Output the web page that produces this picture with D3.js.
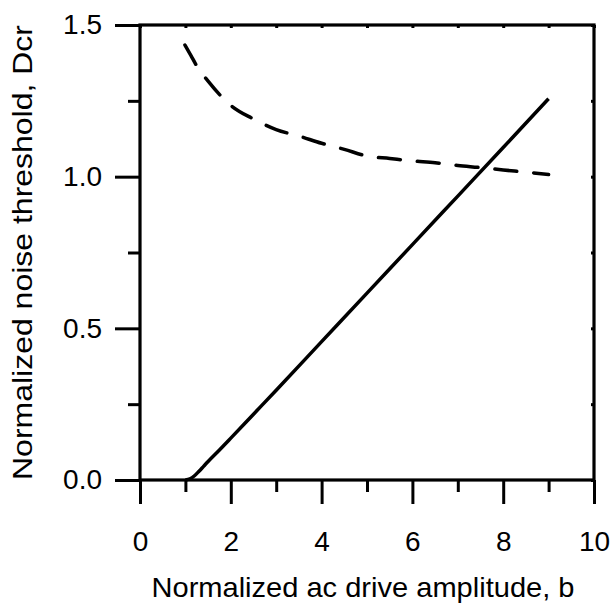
<!DOCTYPE html>
<html>
  <meta charset="utf-8" />
  <style>
    body { margin: 0; background: #fff; }
  </style>
  <svg width="615" height="610"></svg>
  <script src="https://d3js.org/d3.v7.min.js"></script>
  <script>
    // curve values
    const solidB = [1.0, 1.1, 1.2, 1.3, 1.4, 1.5, 1.75, 2.0, 2.5, 3.0, 4.0, 5.0, 6.0, 7.0, 8.0, 9.0];
    const solidD = [0.0, 0.004, 0.014, 0.029, 0.045, 0.061, 0.099, 0.138, 0.217, 0.296, 0.456, 0.616, 0.776, 0.936, 1.096, 1.257];

    const dashB = [0.99, 1.12, 1.25, 1.5, 2.0, 2.5, 3.0, 3.5, 4.0, 4.5, 5.0, 5.5, 6.0, 6.5, 7.0, 7.5, 8.0, 8.5, 9.0];
    const dashD = [1.434, 1.4, 1.365, 1.315, 1.235, 1.19, 1.155, 1.134, 1.11, 1.09, 1.068, 1.06, 1.052, 1.046, 1.037, 1.03, 1.022, 1.015, 1.007];

    const xMajor = [0, 2, 4, 6, 8, 10];
    const xMinor = [1, 3, 5, 7, 9];
    const yMajor = [0, 0.5, 1.0, 1.5];
    const yMinor = [0.25, 0.75, 1.25];

    const font = "'Liberation Sans', Arial, sans-serif";
    const fontSize = 28;

    var svg = d3.select("svg");
    var x = d3.scaleLinear().domain([0, 10]).range([140, 594]);
    var y = d3.scaleLinear().domain([0, 1.5]).range([480, 25]);

    function styleAxis(g) {
      g.select(".domain").remove();
      g.selectAll("line").attr("stroke", "#000").attr("stroke-width", 3);
      g.selectAll("text")
        .attr("font-family", font)
        .attr("font-size", fontSize)
        .attr("fill", "#000");
    }

    // bottom axis
    svg.append("g")
      .attr("transform", "translate(0,480)")
      .call(d3.axisBottom(x).tickValues(xMajor).tickSize(24).tickSizeOuter(0).tickFormat(d3.format("d")))
      .call(styleAxis)
      .call((g) => g.selectAll("text").attr("y", 71).attr("dy", 0));
    svg.append("g")
      .attr("transform", "translate(0,480)")
      .call(d3.axisBottom(x).tickValues(xMinor).tickSize(12).tickFormat(""))
      .call(styleAxis);

    // left axis
    svg.append("g")
      .attr("transform", "translate(140,0)")
      .call(d3.axisLeft(y).tickValues(yMajor).tickSize(25).tickPadding(13).tickFormat(d3.format(".1f")))
      .call(styleAxis)
      .call((g) => g.selectAll("text").attr("dy", "0.32em"));
    svg.append("g")
      .attr("transform", "translate(140,0)")
      .call(d3.axisLeft(y).tickValues(yMinor).tickSize(12).tickFormat(""))
      .call(styleAxis);

    // top and right small ticks
    svg.append("g")
      .attr("transform", "translate(0,25)")
      .call(d3.axisBottom(x).tickValues(xMajor.concat(xMinor)).tickSize(3).tickFormat(""))
      .call(styleAxis);
    svg.append("g")
      .attr("transform", "translate(594,0)")
      .call(d3.axisLeft(y).tickValues(yMajor.concat(yMinor)).tickSize(3).tickFormat(""))
      .call(styleAxis);

    // frame
    svg.append("rect")
      .attr("x", x(0))
      .attr("y", y(1.5))
      .attr("width", x(10) - x(0))
      .attr("height", y(0) - y(1.5))
      .attr("fill", "none")
      .attr("stroke", "#000")
      .attr("stroke-width", 3.2);

    var line = d3.line()
      .x((d) => x(d[0]))
      .y((d) => y(d[1]))
      .curve(d3.curveMonotoneX);

    svg.append("path")
      .datum(solidB.map((b, i) => [b, solidD[i]]))
      .attr("d", line)
      .attr("fill", "none")
      .attr("stroke", "#000")
      .attr("stroke-width", 3.5)
      .attr("stroke-linejoin", "round");

    svg.append("path")
      .datum(dashB.map((b, i) => [b, dashD[i]]))
      .attr("d", line)
      .attr("fill", "none")
      .attr("stroke", "#000")
      .attr("stroke-width", 3.5)
      .attr("stroke-linecap", "round")
      .attr("stroke-dasharray", "22,17");

    // axis titles
    svg.append("text")
      .attr("x", 363)
      .attr("y", 597)
      .attr("text-anchor", "middle")
      .attr("font-family", font)
      .attr("font-size", fontSize)
      .attr("textLength", 423)
      .attr("lengthAdjust", "spacingAndGlyphs")
      .text("Normalized ac drive amplitude, b");

    svg.append("text")
      .attr("transform", "translate(32,252.5) rotate(-90)")
      .attr("text-anchor", "middle")
      .attr("font-family", font)
      .attr("font-size", fontSize)
      .attr("textLength", 455)
      .attr("lengthAdjust", "spacingAndGlyphs")
      .text("Normalized noise threshold, Dcr");
  </script>
</html>
